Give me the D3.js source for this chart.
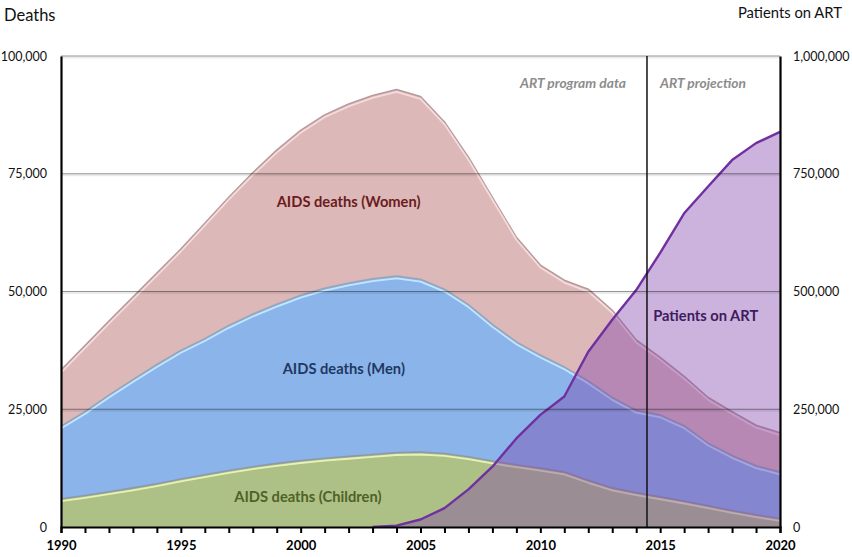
<!DOCTYPE html>
<html>
<head>
<meta charset="utf-8">
<script src="https://cdn.jsdelivr.net/npm/d3@7"></script>
<style>
  html, body { margin: 0; padding: 0; background: #ffffff; }
  svg { display: block; font-family: Lato, "Open Sans", sans-serif; }
</style>
</head>
<body>
<svg id="chart" width="852" height="557"></svg>
<script>
// ---------------- DATA ----------------
const years = d3.range(1990, 2021);
const childrenDeaths = [6000, 6700, 7500, 8300, 9200, 10200, 11100, 12000, 12800, 13500,
  14100, 14600, 15000, 15400, 15800, 15900, 15600, 14900, 14000, 13200,
  12500, 11700, 9900, 8300, 7300, 6400, 5500, 4500, 3500, 2600, 1800];
const menDeaths = [15400, 17800, 20500, 23000, 25300, 27300, 28900, 30800, 32400, 33800,
  35100, 36100, 36800, 37300, 37500, 36700, 34900, 32300, 29000, 26100,
  24000, 22300, 21100, 19200, 17500, 17400, 16000, 13300, 11700, 10400, 9900];
const womenDeaths = [11900, 14000, 15700, 17500, 19400, 21500, 24500, 27200, 30000, 32700,
  35000, 36800, 38000, 38900, 39600, 38800, 35500, 31300, 27000, 22200,
  19100, 18400, 19500, 18500, 14900, 12200, 10500, 9700, 9300, 8600, 8300];
const artYears = d3.range(2003, 2021);
const patientsOnART = [0, 3000, 16000, 40000, 80000, 128000, 188000, 238000, 277000,
  372000, 440000, 503000, 582000, 666000, 723000, 779000, 815000, 839000];
const leftTicks = [0, 25000, 50000, 75000, 100000];
const rightTicks = [0, 250000, 500000, 750000, 1000000];
const labelYears = [1990, 1995, 2000, 2005, 2010, 2015, 2020];
const projectionStart = 2014.45;
const seriesKeys = ["children", "men", "women"];
const seriesNames = ["AIDS deaths (Children)", "AIDS deaths (Men)", "AIDS deaths (Women)"];

// ---------------- LAYOUT ----------------
const svg = d3.select("#chart");
const M = { left: 61, right: 780, top: 56, bottom: 527 };

const x = d3.scaleLinear().domain([1990, 2020]).range([M.left, M.right]);
const yL = d3.scaleLinear().domain([0, 100000]).range([M.bottom, M.top]);
const yR = d3.scaleLinear().domain([0, 1000000]).range([M.bottom, M.top]);

const table = years.map((yr, i) => ({
  year: yr, children: childrenDeaths[i], men: menDeaths[i], women: womenDeaths[i]
}));
const stacked = d3.stack().keys(seriesKeys)(table);

const style = {
  women:    { fill: "#dcb8b9", edge: "#b89a9c", hi: "#f6dcdc", text: "#6b1c1c" },
  men:      { fill: "#8bb5ea", edge: "#9aa4b8", hi: "#c4eaff", text: "#1f3864" },
  children: { fill: "#adc085", edge: "#8f98aa", hi: "#eaf5b6", text: "#4f6228" }
};

// areas drawn from zero (overlapping): women total first, then men, then children
const order = ["women", "men", "children"];
order.forEach(key => {
  const layer = stacked.find(s => s.key === key);
  const area = d3.area()
    .x(d => x(d.data.year))
    .y0(yL(0))
    .y1(d => yL(d[1]));
  const line = d3.line()
    .x(d => x(d.data.year))
    .y(d => yL(d[1]));
  const g = svg.append("g");
  g.append("path").datum(layer).attr("d", area).attr("fill", style[key].fill);
  g.append("path").datum(layer).attr("d", line)
    .attr("fill", "none").attr("stroke", style[key].edge).attr("stroke-width", 1.6)
    .attr("stroke-linejoin", "round");
  g.append("path").datum(layer).attr("d", line)
    .attr("transform", "translate(0,2.4)")
    .attr("fill", "none").attr("stroke", style[key].hi).attr("stroke-width", 1.8)
    .attr("stroke-linejoin", "round").attr("opacity", 0.95);
});

// Patients on ART area and line (right axis)
const artData = artYears.map((yr, i) => ({ year: yr, v: patientsOnART[i] }));
svg.append("path").datum(artData)
  .attr("d", d3.area().x(d => x(d.year)).y0(yR(0)).y1(d => yR(d.v)))
  .attr("fill", "#7d41aa").attr("fill-opacity", 0.4);
svg.append("path").datum(artData)
  .attr("d", d3.line().x(d => x(d.year)).y(d => yR(d.v)))
  .attr("fill", "none").attr("stroke", "#7030a0").attr("stroke-width", 2.4)
  .attr("stroke-linejoin", "round");

// gridlines on top
const grid = svg.append("g");
leftTicks.filter(t => t > 0).forEach(t => {
  grid.append("line")
    .attr("x1", M.left).attr("x2", M.right)
    .attr("y1", yL(t) + 1.5).attr("y2", yL(t) + 1.5)
    .attr("stroke", "rgba(0,0,0,0.08)").attr("stroke-width", 2);
  grid.append("line")
    .attr("x1", M.left).attr("x2", M.right)
    .attr("y1", yL(t)).attr("y2", yL(t))
    .attr("stroke", "rgba(0,0,0,0.42)").attr("stroke-width", 1);
});

// projection divider
svg.append("line")
  .attr("x1", x(projectionStart)).attr("x2", x(projectionStart))
  .attr("y1", yL(100000)).attr("y2", yL(0))
  .attr("stroke", "#111").attr("stroke-width", 1.5);

// axes
const xAxis = svg.append("g")
  .attr("transform", `translate(0,${M.bottom})`)
  .call(d3.axisBottom(x).tickValues(years).tickSize(6).tickPadding(8)
    .tickFormat(d => labelYears.includes(d) ? String(d) : ""));
xAxis.select(".domain").attr("stroke", "#000").attr("stroke-width", 2.2);
xAxis.selectAll(".tick line").attr("stroke", "#000").attr("stroke-width", 2);
xAxis.selectAll(".tick text")
  .attr("font-family", "Lato, sans-serif").attr("font-size", 13)
  .attr("font-weight", "bold").attr("fill", "#000");

const leftAxis = svg.append("g")
  .attr("transform", `translate(${M.left},0)`)
  .call(d3.axisLeft(yL).tickValues(leftTicks).tickSize(0).tickPadding(14)
    .tickFormat(d3.format(",")));
leftAxis.select(".domain").attr("stroke", "#000").attr("stroke-width", 2.2);
leftAxis.selectAll(".tick text")
  .attr("font-family", "Lato, sans-serif").attr("font-size", 12.5).attr("fill", "#111");

const rightAxis = svg.append("g")
  .attr("transform", `translate(${M.right},0)`)
  .call(d3.axisRight(yR).tickValues(rightTicks).tickSize(0).tickPadding(13)
    .tickFormat(d3.format(",")));
rightAxis.select(".domain").attr("stroke", "#000").attr("stroke-width", 2.2);
rightAxis.selectAll(".tick text")
  .attr("font-family", "Lato, sans-serif").attr("font-size", 12.5).attr("fill", "#111");

// axis titles
svg.append("text").attr("x", 4).attr("y", 21)
  .attr("font-size", 16.5).attr("fill", "#111").text("Deaths");
svg.append("text").attr("x", 842).attr("y", 18).attr("text-anchor", "end")
  .attr("font-size", 14.8).attr("fill", "#111").text("Patients on ART");

// phase labels
svg.append("text").attr("x", x(projectionStart) - 21).attr("y", 88)
  .attr("text-anchor", "end").attr("font-size", 13.8).attr("font-weight", "bold")
  .attr("font-style", "italic").attr("fill", "#8c8c8c").text("ART program data");
svg.append("text").attr("x", x(projectionStart) + 13).attr("y", 88)
  .attr("font-size", 13.8).attr("font-weight", "bold")
  .attr("font-style", "italic").attr("fill", "#8c8c8c").text("ART projection");

// series labels
const seriesLabels = [
  { text: seriesNames[2], year: 2002.0, value: 68000, color: style.women.text, axis: yL },
  { text: seriesNames[1], year: 2001.8, value: 32500, color: style.men.text, axis: yL },
  { text: seriesNames[0], year: 2000.3, value: 5400, color: style.children.text, axis: yL },
  { text: "Patients on ART", year: 2016.9, value: 438000, color: "#3f1a5e", axis: yR }
];
seriesLabels.forEach(l => {
  svg.append("text").attr("x", x(l.year)).attr("y", l.axis(l.value))
    .attr("text-anchor", "middle").attr("font-size", 14.7).attr("font-weight", "bold")
    .attr("fill", l.color).text(l.text);
});
</script>
</body>
</html>
